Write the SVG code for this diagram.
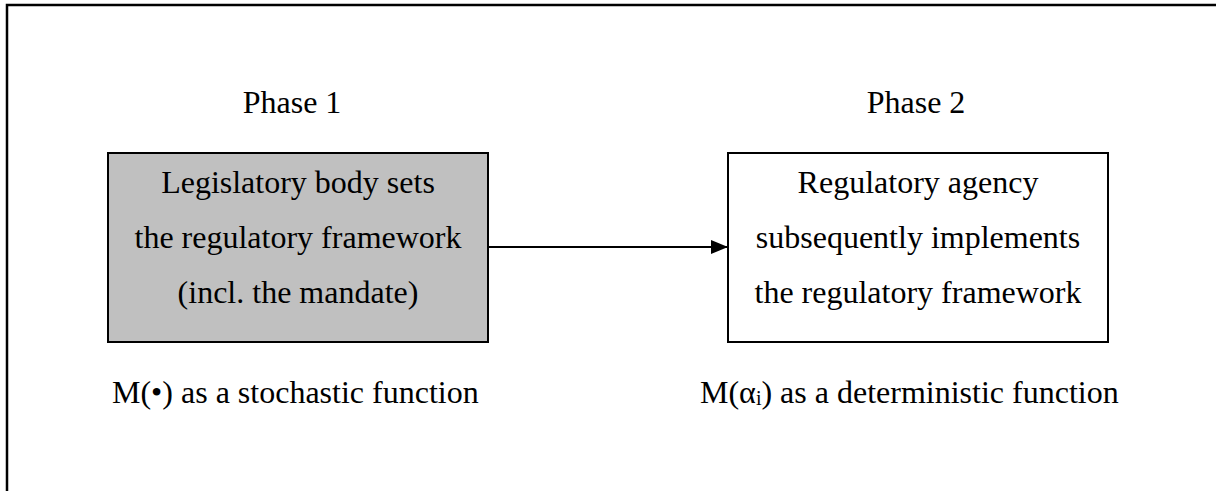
<svg xmlns="http://www.w3.org/2000/svg" width="1216" height="491" viewBox="0 0 1216 491">
<style>
text{font-family:"Liberation Serif","Times New Roman",serif;font-size:32px;fill:#000}
.box{stroke:#000;stroke-width:2}
</style>
<defs>
<marker id="ah" markerWidth="17" markerHeight="14" refX="16" refY="7" orient="auto" markerUnits="userSpaceOnUse">
<path d="M0,0 L17,7 L0,14 Z" fill="#000"/>
</marker>
</defs>
<rect width="1216" height="491" fill="#fff"/>
<path d="M7,500 V5 H1230" fill="none" stroke="#000" stroke-width="2.5"/>
<text x="292" y="113" text-anchor="middle">Phase 1</text>
<text x="916" y="113" text-anchor="middle">Phase 2</text>
<g id="connectors">
<line x1="488" y1="247" x2="727" y2="247" stroke="#000" stroke-width="2" marker-end="url(#ah)"/>
</g>
<g id="node1">
<rect class="box" x="108" y="153" width="380" height="189" fill="#c0c0c0"/>
<text x="298" y="193" text-anchor="middle">Legislatory body sets</text>
<text x="298" y="248" text-anchor="middle">the regulatory framework</text>
<text x="298" y="303" text-anchor="middle">(incl. the mandate)</text>
</g>
<g id="node2">
<rect class="box" x="728" y="153" width="380" height="189" fill="#fff"/>
<text x="918" y="193" text-anchor="middle">Regulatory agency</text>
<text x="918" y="248" text-anchor="middle">subsequently implements</text>
<text x="918" y="303" text-anchor="middle">the regulatory framework</text>
</g>
<text x="112" y="403">M(•) as a stochastic function</text>
<text x="700" y="403">M(α<tspan font-size="20" dy="2">i</tspan><tspan dy="-2">) as a deterministic function</tspan></text>
</svg>
